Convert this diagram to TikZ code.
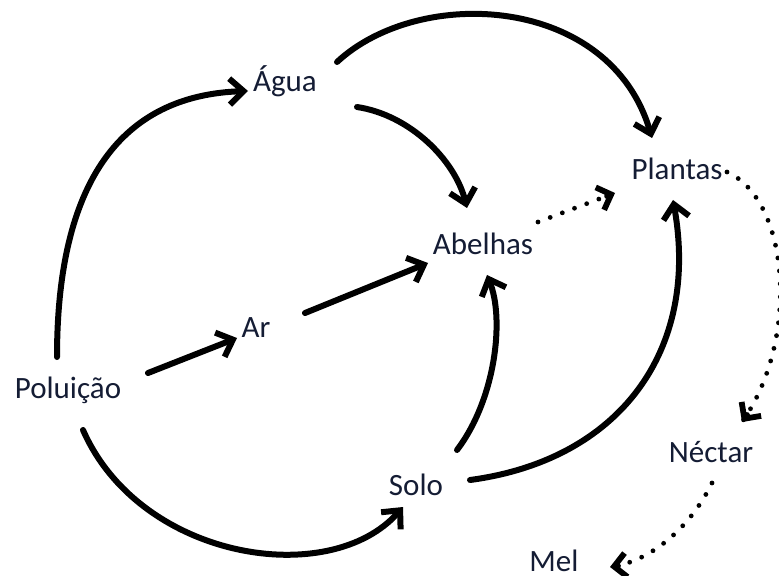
\documentclass[tikz,border=0pt]{standalone}
\usepackage{fontspec}
\setmainfont{Carlito}
\usepackage{xcolor}
\usepackage{tikz}
\usetikzlibrary{arrows.meta}
\definecolor{inkblue}{RGB}{20,28,52}

\begin{document}
\begin{tikzpicture}[x=0.5pt,y=-0.5pt,
    factor/.style={font=\fontsize{15.5}{18}\selectfont,text=inkblue,inner sep=0pt,anchor=base},
    link/.style={line width=3pt,line cap=round,-{Straight Barb[length=7pt,width=13pt]}},
    dotlink/.style={line width=2.4pt,line cap=round,dash pattern=on 0pt off 6.5pt},
    dottip/.style={line width=2.9pt,line cap=round,-{Straight Barb[length=6pt,width=12pt]}}]
    \useasboundingbox (0,0) rectangle (779,576);

    % Factors
    \node[factor] (agua) at (285,92) {Água};
    \node[factor] (plantas) at (677,180) {Plantas};
    \node[factor] (abelhas) at (483,255) {Abelhas};
    \node[factor] (ar) at (256,337) {Ar};
    \node[factor] (polu) at (68,398) {Poluição};
    \node[factor] (solo) at (416,495) {Solo};
    \node[factor] (nectar) at (711,462) {Néctar};
    \node[factor] (mel) at (554,571) {Mel};

    % Solid influences
    \draw[link] ([shift={(-11,-41)}]polu.base) .. controls +(0,-187) and +(-118,4) .. ([shift={(-37,-1)}]agua.base);
    \draw[link] ([shift={(52,-30)}]agua.base) .. controls +(83,-77) and +(-42,-143) .. ([shift={(-25,-42)}]plantas.base);
    \draw[link] ([shift={(72,15)}]agua.base) .. controls +(53,8) and +(-12,-48) .. ([shift={(-16,-47)}]abelhas.base);
    \draw[link] ([shift={(80,-25)}]polu.base) -- ([shift={(-19,1)}]ar.base);
    \draw[link] ([shift={(49,-24)}]ar.base) -- ([shift={(-55,8)}]abelhas.base);
    \draw[link] ([shift={(15,32)}]polu.base) .. controls +(57,130) and +(-73,83) .. ([shift={(-13,12)}]solo.base);
    \draw[link] ([shift={(41,-45)}]solo.base) .. controls +(38,-50) and +(18,45) .. ([shift={(4,20)}]abelhas.base);
    \draw[link] ([shift={(54,-15)}]solo.base) .. controls +(150,-20) and +(27,150) .. ([shift={(-4,20)}]plantas.base);

    % Dotted flows, solid tips drawn on top
    \draw[dotlink] ([shift={(55,-33)}]abelhas.base) -- ([shift={(-62,13)}]plantas.base);
    \draw[dottip] ([shift={(-70,16)}]plantas.base) -- ([shift={(-62,13)}]plantas.base);
    \draw[dotlink] ([shift={(50,-8)}]plantas.base) .. controls +(63,28) and +(58,-82) .. ([shift={(31,-40)}]nectar.base);
    \draw[dottip] ([shift={(36,-47)}]nectar.base) -- ([shift={(31,-40)}]nectar.base);
    \draw[dotlink] ([shift={(1,21)}]nectar.base) .. controls +(-22,45) and +(40,-5) .. ([shift={(56,-4)}]mel.base);
    \draw[dottip] ([shift={(64,-5)}]mel.base) -- ([shift={(56,-4)}]mel.base);
\end{tikzpicture}
\end{document}
